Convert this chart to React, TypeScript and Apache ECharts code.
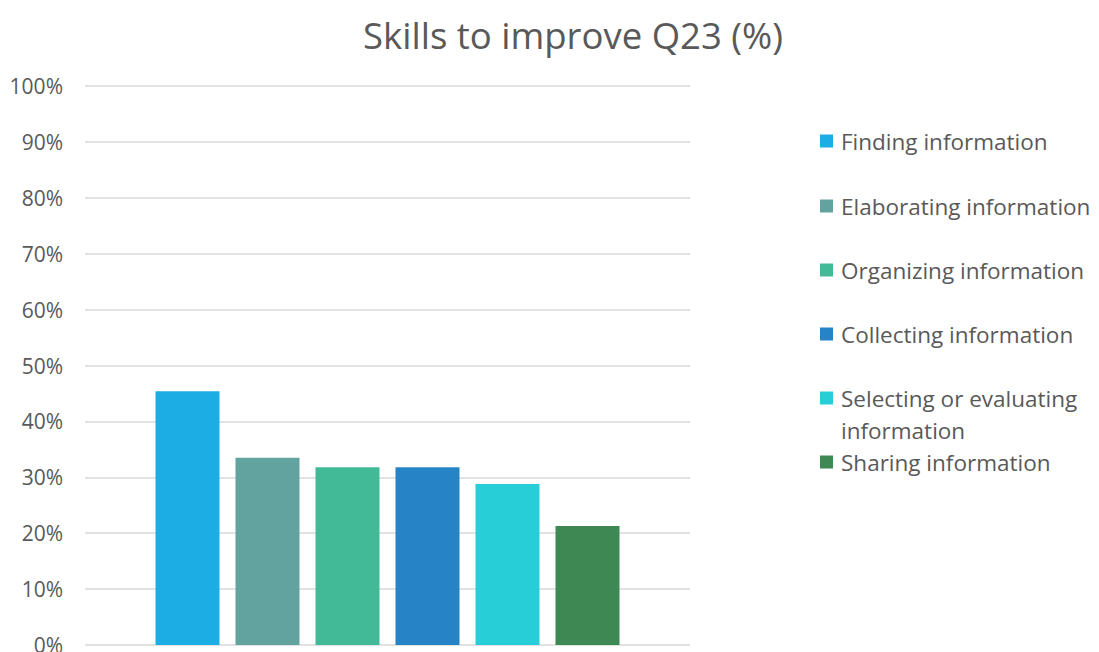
import React, { useEffect, useRef } from "react";
import * as echarts from "echarts";

const title = "Skills to improve Q23 (%)";
const seriesNames = [
  "Finding information",
  "Elaborating information",
  "Organizing information",
  "Collecting information",
  "Selecting or evaluating information",
  "Sharing information",
];
const seriesValues = [45.4, 33.5, 31.8, 31.8, 28.8, 21.3];
const seriesColors = ["#1CADE4", "#62A39F", "#42BA97", "#2683C6", "#27CED7", "#3E8853"];
const legendLabels = [
  "Finding information",
  "Elaborating information",
  "Organizing information",
  "Collecting information",
  "\u00a0\nSelecting or evaluating\ninformation",
  "Sharing information",
];

const FONT = "Open Sans";
const TXT = "#595959";

export default function App() {
  const ref = useRef<HTMLDivElement>(null);
  useEffect(() => {
    if (!ref.current) return;
    const chart = echarts.init(ref.current, undefined, { renderer: "svg" });
    const legendTops = [141, 206, 270, 334, 398, 462];
    const legends = seriesNames.map((name, i) => {
      const lines = legendLabels[i].split("\n").length;
      return {
        show: true,
        left: 820,
        top: legendTops[i] - (lines * 32) / 2,
        orient: "vertical",
        itemWidth: 13,
        itemHeight: 13,
        itemGap: 0,
        icon: "rect",
        padding: 0,
        data: [name],
        formatter: () => legendLabels[i],
        textStyle: {
          fontFamily: FONT,
          fontSize: 22.5,
          color: TXT,
          lineHeight: 32,
          padding: [0, 0, 0, 3],
        },
        selectedMode: false,
      };
    });
    chart.setOption({
      animation: false,
      backgroundColor: "#ffffff",
      title: {
        text: title,
        left: 568,
        textAlign: "center",
        top: 11,
        textStyle: { fontFamily: FONT, fontSize: 36.5, fontWeight: "normal", color: TXT },
      },
      legend: legends,
      grid: { left: 85, right: 409, top: 86, bottom: 7, containLabel: false, outerBoundsMode: "none" },
      xAxis: {
        type: "category",
        data: [""],
        axisLine: { show: false },
        axisTick: { show: false },
        axisLabel: { show: false },
      },
      yAxis: {
        type: "value",
        min: 0,
        max: 100,
        interval: 10,
        axisLine: { show: false },
        axisTick: { show: false },
        axisLabel: {
          formatter: "{value}%",
          fontFamily: FONT,
          fontSize: 21,
          lineHeight: 14,
          color: TXT,
          margin: 22,
        },
        splitLine: { lineStyle: { color: "#D9D9D9", width: 1.5 } },
      },
      series: seriesNames.map((name, i) => ({
        type: "bar",
        name,
        data: [seriesValues[i]],
        barWidth: 64,
        barGap: "25%",
        itemStyle: { color: seriesColors[i] },
      })),
    });
    return () => chart.dispose();
  }, []);
  return (
    <div
      ref={ref}
      style={{ position: "fixed", left: 0, top: 0, width: 1099, height: 652 }}
    />
  );
}
